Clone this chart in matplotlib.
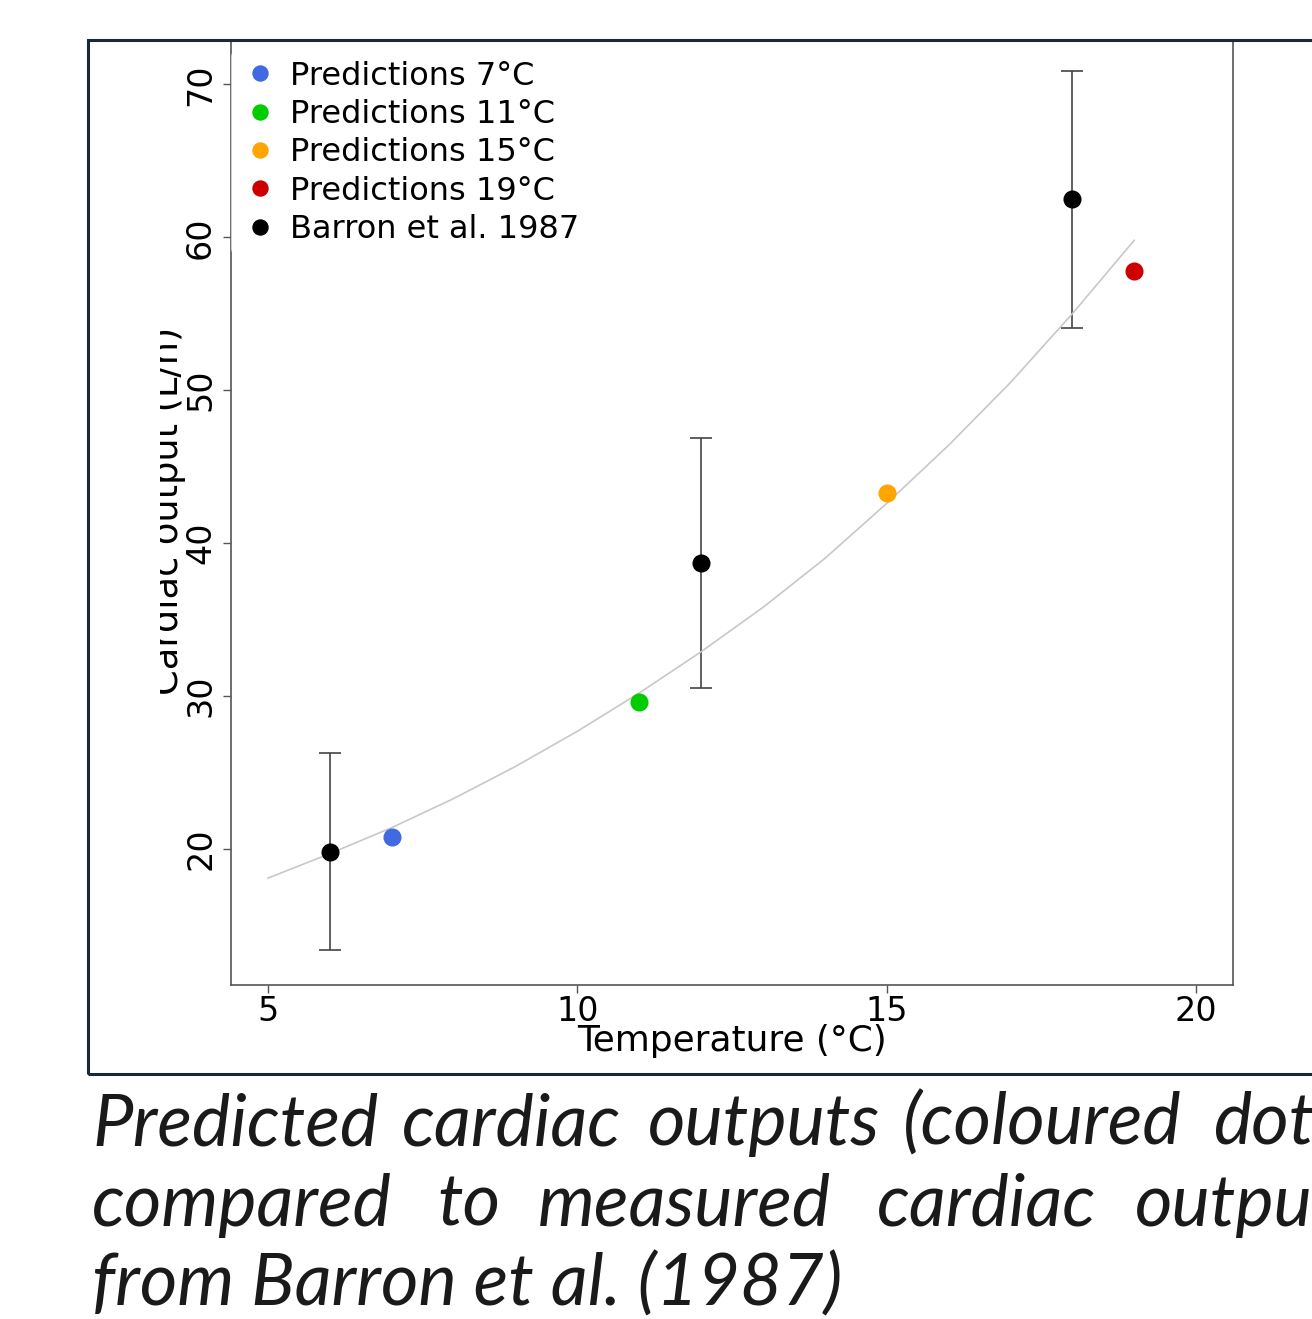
import matplotlib
matplotlib.use("Agg")
import matplotlib.pyplot as plt
from matplotlib.patches import Rectangle
from matplotlib.transforms import Bbox

# ---- data ----
pred_temps = [7, 11, 15, 19]
pred_values = [20.8, 29.6, 43.3, 57.8]
pred_colors = ["#4169E1", "#00CC00", "#FFA500", "#CC0000"]
pred_labels = ["Predictions 7°C", "Predictions 11°C", "Predictions 15°C", "Predictions 19°C"]

barron_temps = [6, 12, 18]
barron_values = [19.8, 38.7, 62.5]
barron_lower = [13.4, 30.5, 54.1]
barron_upper = [26.3, 46.9, 70.85]
barron_label = "Barron et al. 1987"

curve_temps = [5, 6, 7, 8, 9, 10, 11, 12, 13, 14, 15, 16, 17, 18, 19]
curve_values = [18.1, 19.7, 21.4, 23.3, 25.4, 27.7, 30.2, 32.9, 35.8, 39.0, 42.6, 46.4, 50.5, 55.0, 59.8]

xticks = [5, 10, 15, 20]
yticks = [20, 30, 40, 50, 60, 70]

W, H = 1312, 1319
fig = plt.figure(figsize=(W / 100, H / 100), dpi=100)
fig.patch.set_facecolor("white")

ax = fig.add_axes([231 / W, 1 - 985 / H, (1233 - 231) / W, (985 - 40) / H])
ax.set_xlim(4.402, 20.597)
ax.set_ylim(11.11, 72.9)

spine_col = "#555555"
for s in ["left", "bottom", "right"]:
    ax.spines[s].set_color(spine_col)
    ax.spines[s].set_linewidth(1.2)
ax.spines["top"].set_visible(False)

ax.set_xticks(xticks)
ax.set_yticks(yticks)
ax.tick_params(axis="both", direction="out", length=6, width=1, color=spine_col,
               labelsize=24, labelcolor="black")
ax.tick_params(axis="x", pad=1)
ax.tick_params(axis="y", pad=4)
for lab in ax.get_yticklabels():
    lab.set_rotation(90)
    lab.set_va("center")

# fitted curve
ax.plot(curve_temps, curve_values, color="#c8c8c8", lw=1.2, zorder=4)

# Barron data with error bars
yerr = [[v - lo for v, lo in zip(barron_values, barron_lower)],
        [hi - v for v, hi in zip(barron_values, barron_upper)]]
ax.errorbar(barron_temps, barron_values, yerr=yerr, fmt="none", ecolor="#444444",
            elinewidth=1.2, capsize=8, capthick=1.2, zorder=3)
ax.plot(barron_temps, barron_values, "o", color="black", ms=12, zorder=5)

handles = []
for t, v, c, l in zip(pred_temps, pred_values, pred_colors, pred_labels):
    h, = ax.plot([t], [v], "o", color=c, ms=12, zorder=5, label=l)
    handles.append(h)
hb, = ax.plot([], [], "o", color="black", ms=12, label=barron_label)
handles.append(hb)

leg = fig.legend(handles=handles, loc="upper left",
                 bbox_to_anchor=(231 / W, 1 - 51 / H), bbox_transform=fig.transFigure,
                 frameon=True, fontsize=23, markerscale=0.9,
                 handlelength=1.2, handletextpad=0.35, labelspacing=0.23,
                 borderpad=0.3, borderaxespad=0)
leg.get_frame().set_facecolor("white")
leg.get_frame().set_edgecolor("none")
leg.get_frame().set_alpha(0.65)

ax.set_xlabel("Temperature (°C)", fontsize=25.8, labelpad=-3)

# y label (its upper part is cut away in the original)
ylab = fig.text(178 / W, 1 - 511 / H, "Cardiac output (L/h)", rotation=90,
                rotation_mode="anchor", ha="center", va="baseline", fontsize=26.5)
ylab.set_clip_box(Bbox.from_extents(160, 0, 400, H))
ylab.set_clip_on(True)

# outer frame
fig.add_artist(Rectangle((88 / W, 1 - 1074 / H), 1.2, (1074 - 40) / H,
                         transform=fig.transFigure, fill=False,
                         edgecolor="#1c2833", lw=2.2, clip_on=False))

# caption
cap_font = dict(family="Lato", style="italic", fontsize=52, color="#1a1a1a")
line1 = [("Predicted", 92), ("cardiac", 402), ("outputs", 648), ("(coloured", 903), ("dots)", 1213)]
line2 = [("compared", 92), ("to", 437), ("measured", 538), ("cardiac", 877), ("outputs", 1135)]
for word, x in line1:
    fig.text(x / W, 1 - 1145 / H, word, ha="left", va="baseline", **cap_font)
for word, x in line2:
    fig.text(x / W, 1 - 1226 / H, word, ha="left", va="baseline", **cap_font)
fig.text(92 / W, 1 - 1306 / H, "from Barron et al. (1987)", ha="left", va="baseline", **cap_font)

fig.savefig("out.png", dpi=100)
